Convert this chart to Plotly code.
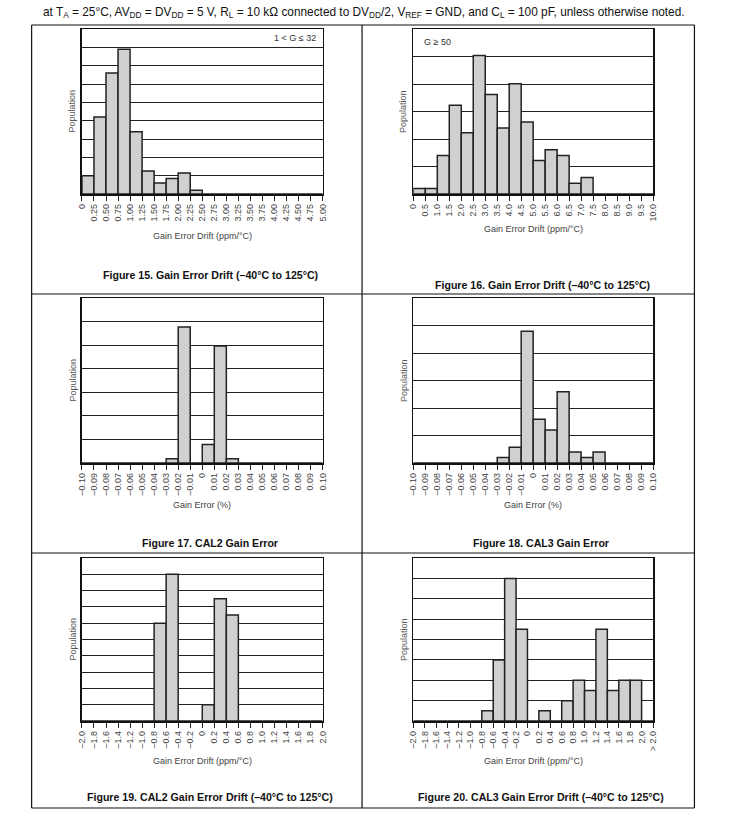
import plotly.graph_objects as go

W, H = 731, 823
FONT = "Liberation Sans, Arial, sans-serif"

# ---------------- data ----------------
f15_labels = ["0", "0.25", "0.50", "0.75", "1.00", "1.25", "1.50", "1.75", "2.00", "2.25", "2.50",
              "2.75", "3.00", "3.25", "3.50", "3.75", "4.00", "4.25", "4.50", "4.75", "5.00"]
f15_values = [1.0, 4.2, 6.6, 7.9, 3.4, 1.25, 0.6, 0.85, 1.15, 0.2, 0, 0, 0, 0, 0, 0, 0, 0, 0, 0]

f16_labels = ["0", "0.5", "1.0", "1.5", "2.0", "2.5", "3.0", "3.5", "4.0", "4.5", "5.0",
              "5.5", "6.0", "6.5", "7.0", "7.5", "8.0", "8.5", "9.0", "9.5", "10.0"]
f16_values = [0.2, 0.2, 1.4, 3.23, 2.23, 5.04, 3.62, 2.4, 4.01, 2.62, 1.22, 1.61, 1.4, 0.39, 0.6,
              0, 0, 0, 0, 0]

gain_labels = ["–0.10", "–0.09", "–0.08", "–0.07", "–0.06", "–0.05", "–0.04", "–0.03", "–0.02", "–0.01",
               "0", "0.01", "0.02", "0.03", "0.04", "0.05", "0.06", "0.07", "0.08", "0.09", "0.10"]
f17_values = [0, 0, 0, 0, 0, 0, 0, 0.18, 5.77, 0, 0.78, 4.96, 0.18, 0, 0, 0, 0, 0, 0, 0]
f18_values = [0, 0, 0, 0, 0, 0, 0, 0.2, 0.57, 4.79, 1.59, 1.2, 2.59, 0.4, 0.2, 0.4, 0, 0, 0, 0]

f19_labels = ["–2.0", "–1.8", "–1.6", "–1.4", "–1.2", "–1.0", "–0.8", "–0.6", "–0.4", "–0.2", "0",
              "0.2", "0.4", "0.6", "0.8", "1.0", "1.2", "1.4", "1.6", "1.8", "2.0"]
f19_values = [0, 0, 0, 0, 0, 0, 6.0, 9.0, 0, 0, 1.0, 7.5, 6.5, 0, 0, 0, 0, 0, 0, 0]

f20_labels = f19_labels + ["> 2.0"]
f20_values = [0, 0, 0, 0, 0, 0, 0.5, 3.0, 7.0, 4.5, 0, 0.5, 0, 1.0, 2.0, 1.5, 4.5, 1.5, 2.0, 2.0, 0]

y_max = [9, 6, 7, 6, 10, 8]

header = ("at T<sub>A</sub> = 25°C, AV<sub>DD</sub> = DV<sub>DD</sub> = 5 V, R<sub>L</sub> = 10 kΩ connected to "
          "DV<sub>DD</sub>/2, V<sub>REF</sub> = GND, and C<sub>L</sub> = 100 pF, unless otherwise noted.")
captions = ["Figure 15. Gain Error Drift (–40°C to 125°C)",
            "Figure 16. Gain Error Drift (–40°C to 125°C)",
            "Figure 17. CAL2 Gain Error",
            "Figure 18. CAL3 Gain Error",
            "Figure 19. CAL2 Gain Error Drift (–40°C to 125°C)",
            "Figure 20. CAL3 Gain Error Drift (–40°C to 125°C)"]
x_titles = ["Gain Error Drift (ppm/°C)", "Gain Error Drift (ppm/°C)", "Gain Error (%)",
            "Gain Error (%)", "Gain Error Drift (ppm/°C)", "Gain Error Drift (ppm/°C)"]

panels = [
    (f15_labels, f15_values),
    (f16_labels, f16_values),
    (gain_labels, f17_values),
    (gain_labels, f18_values),
    (f19_labels, f19_values),
    (f20_labels, f20_values),
]

# ---------------- layout geometry (page pixels) ----------------
boxes = [(78, 322, 29, 194), (414, 657, 29, 194),
         (78, 322, 298, 463), (414, 657, 298, 463),
         (78, 322, 558, 721), (414, 657, 558, 721)]
caption_pos = [(208, 275), (545, 285), (208, 543), (543, 543), (208, 797), (543, 797)]
xtitle_y = [236, 229, 505, 505, 761, 761]


def px(x):
    return x / W


def py(y):
    return 1 - y / H


fig = go.Figure()
layout = dict(
    width=W, height=H, margin=dict(l=0, r=0, t=0, b=0),
    paper_bgcolor="white", plot_bgcolor="white", showlegend=False,
    font=dict(family=FONT, color="#333"),
    annotations=[], shapes=[],
)

for i, ((labels, values), (x0, x1, y0, y1)) in enumerate(zip(panels, boxes)):
    n = i + 1
    xa = "xaxis" if n == 1 else f"xaxis{n}"
    ya = "yaxis" if n == 1 else f"yaxis{n}"
    xr = "x" if n == 1 else f"x{n}"
    yr = "y" if n == 1 else f"y{n}"
    nb = len(labels) - 1
    fig.add_trace(go.Bar(
        x=[k + 0.5 for k in range(len(values))], y=values, width=1,
        marker=dict(color="#d0d0d0", line=dict(color="#222", width=1.5)),
        xaxis=xr, yaxis=yr, hoverinfo="skip"))
    layout[xa] = dict(
        domain=[px(x0), px(x1)], anchor=yr, range=[0, nb],
        tickmode="array", tickvals=list(range(len(labels))), ticktext=labels,
        tickangle=-90, ticks="outside", ticklen=5, tickwidth=1, tickcolor="#222",
        tickfont=dict(size=9, color="#444", family=FONT),
        showline=True, linecolor="#111", linewidth=1.5, mirror=True,
        showgrid=False, zeroline=False, fixedrange=True)
    layout[ya] = dict(
        domain=[py(y1), py(y0)], anchor=xr, range=[0, y_max[i]],
        tickmode="linear", tick0=0, dtick=1, showticklabels=False, ticks="",
        showgrid=True, gridcolor="#222", gridwidth=1,
        showline=True, linecolor="#111", linewidth=1.5, mirror=True,
        zeroline=False, fixedrange=True)
    layout["annotations"].append(dict(
        x=px(x0 - 10), y=py((y0 + y1) / 2), xref="paper", yref="paper",
        text="Population", textangle=-90, showarrow=False,
        font=dict(size=9, color="#555", family=FONT), xanchor="center", yanchor="middle"))
    layout["annotations"].append(dict(
        x=px((x0 + x1) / 2), y=py(xtitle_y[i]), xref="paper", yref="paper",
        text=x_titles[i], showarrow=False,
        font=dict(size=9, color="#444", family=FONT), xanchor="center", yanchor="middle"))
    cx, cy = caption_pos[i]
    layout["annotations"].append(dict(
        x=px(cx), y=py(cy), xref="paper", yref="paper",
        text="<b>" + captions[i] + "</b>", showarrow=False,
        font=dict(size=10.6, color="#111", family=FONT), xanchor="center", yanchor="middle"))

# in-plot labels
layout["annotations"].append(dict(
    x=px(317), y=py(38), xref="paper", yref="paper", text="1 &lt; G ≤ 32",
    showarrow=False, font=dict(size=9, color="#333", family=FONT), xanchor="right", yanchor="middle"))
layout["annotations"].append(dict(
    x=px(423), y=py(42), xref="paper", yref="paper", text="G ≥ 50",
    showarrow=False, font=dict(size=9, color="#333", family=FONT), xanchor="left", yanchor="middle"))

# header
layout["annotations"].append(dict(
    x=px(37), y=py(13), xref="paper", yref="paper", text=header,
    showarrow=False, font=dict(size=11.85, color="#111", family=FONT), xanchor="left", yanchor="middle"))

# table frame
TL, TR, TT, TB = 27, 699, 25, 808
line = dict(color="#111", width=1.2)
for (a, b, c, d) in [(TL, TT, TR, TT), (TL, 294, TR, 294), (TL, 553, TR, 553), (TL, TB, TR, TB),
                     (TL, TT, TL, TB), (TR, TT, TR, TB), (362, TT, 362, TB)]:
    layout["shapes"].append(dict(type="line", xref="paper", yref="paper",
                                 x0=px(a), y0=py(b), x1=px(c), y1=py(d), line=line, layer="above"))

fig.update_layout(**layout)
fig.write_html("out.html", config={"displayModeBar": False, "staticPlot": True},
               post_script="document.body.style.margin='0';document.body.style.overflow='hidden';")
